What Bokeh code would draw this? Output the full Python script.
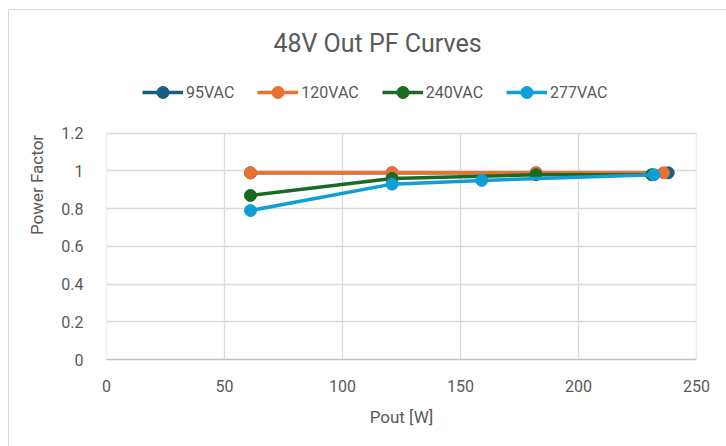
from bokeh.plotting import figure
from bokeh.models import Label, Legend, LegendItem, FixedTicker, Range1d, CustomJSTickFormatter
from bokeh.embed import file_html
from bokeh.resources import INLINE

# Data
x_95 = [61, 121, 182, 238]
pf_95 = [0.99, 0.99, 0.99, 0.99]
x_120 = [61, 121, 182, 236]
pf_120 = [0.99, 0.99, 0.99, 0.99]
x_240 = [61, 121, 182, 231]
pf_240 = [0.87, 0.96, 0.98, 0.98]
x_277 = [61, 121, 159, 232]
pf_277 = [0.79, 0.93, 0.95, 0.98]
series_names = ["95VAC", "120VAC", "240VAC", "277VAC"]
x_ticks = [0, 50, 100, 150, 200, 250]
y_ticks = [0, 0.2, 0.4, 0.6, 0.8, 1.0, 1.2]

colors = ["#156082", "#E97132", "#196B24", "#0F9ED5"]
FONT = "Roboto"
GREY = "#595959"
GRID = "#D9D9D9"

# frame spans the whole chart height so that title and legend sit inside it
p = figure(width=726, height=446, output_backend="svg", toolbar_location=None,
           x_range=Range1d(0, 250), y_range=Range1d(0, 1.851),
           min_border_left=106, min_border_right=30, min_border_top=10, min_border_bottom=87)
p.outline_line_color = None
p.background_fill_color = "white"
p.border_fill_color = None
# light chart-area border (left and top edges visible in the reference)
p.styles = {"background": "linear-gradient(#D6D6D6, #D6D6D6) 8px 9px / 1px 100% no-repeat, "
                          "linear-gradient(#D6D6D6, #D6D6D6) 8px 9px / 100% 1px no-repeat, white"}

p.xaxis.ticker = FixedTicker(ticks=x_ticks)
p.yaxis.ticker = FixedTicker(ticks=y_ticks)
p.yaxis.bounds = (y_ticks[0], y_ticks[-1])
p.yaxis.formatter = CustomJSTickFormatter(code="return (Math.round(tick*10)/10).toString();")

for ax in (p.xaxis[0], p.yaxis[0]):
    ax.major_tick_line_color = None
    ax.minor_tick_line_color = None
    ax.major_label_text_font = FONT
    ax.major_label_text_font_size = "16px"
    ax.major_label_text_color = GREY
    ax.axis_label_text_font = FONT
    ax.axis_label_text_font_size = "17px"
    ax.axis_label_text_color = GREY
    ax.axis_label_text_font_style = "normal"
p.xaxis.axis_line_color = "#BFBFBF"
p.xaxis.axis_line_width = 1.3
p.yaxis.axis_line_color = None
p.xaxis.axis_label = "Pout [W]"
p.yaxis.axis_label = "Power Factor"
p.xaxis.major_label_standoff = 14
p.yaxis.major_label_standoff = 17
p.xaxis.axis_label_standoff = 12
p.yaxis.axis_label_standoff = 11

# horizontal grid from the y ticker; vertical grid limited to the value area
p.ygrid.grid_line_color = GRID
p.ygrid.grid_line_width = 1.3
p.xgrid.visible = False
p.segment(x0=x_ticks, y0=[y_ticks[0]] * len(x_ticks), x1=x_ticks, y1=[y_ticks[-1]] * len(x_ticks),
          line_color=GRID, line_width=1.3, level="underlay")

xs = [x_95, x_120, x_240, x_277]
ys = [pf_95, pf_120, pf_240, pf_277]
items = []
for name, xv, yv, c in zip(series_names, xs, ys, colors):
    r1 = p.line(xv, yv, line_color=c, line_width=3.5)
    r2 = p.scatter(xv, yv, size=12, fill_color=c, line_color=c)
    items.append(LegendItem(label=name, renderers=[r1, r2]))

legend = Legend(items=items, orientation="horizontal", location=(36, 252),
                glyph_width=41, glyph_height=30, label_height=16, label_standoff=3, spacing=23,
                label_text_font=FONT, label_text_font_size="16px", label_text_color=GREY,
                border_line_color=None, background_fill_alpha=0, padding=0, margin=0)
p.add_layout(legend, "center")

title = Label(x=271, y=316, x_units="screen", y_units="screen", text="48V Out PF Curves",
              text_font=FONT, text_font_size="25px", text_color=GREY,
              text_align="center", text_baseline="middle")
p.add_layout(title)

open("out.html", "w").write(file_html(p, INLINE))
